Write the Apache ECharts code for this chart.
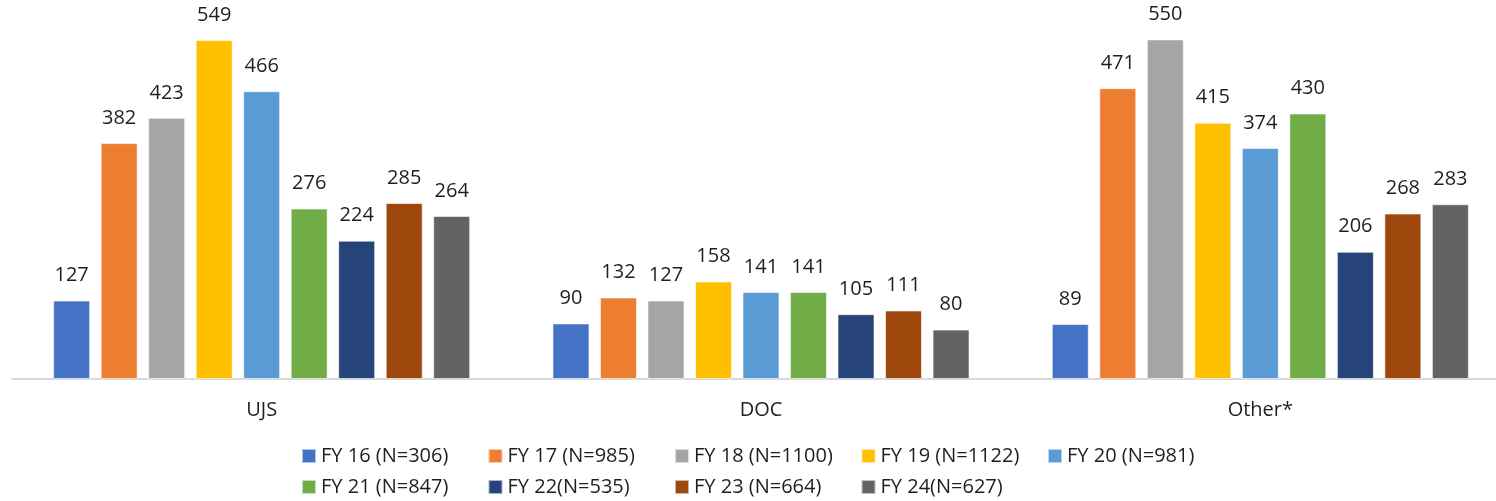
<!DOCTYPE html>
<html>
<head>
<meta charset="utf-8">
<script src="https://cdn.jsdelivr.net/npm/echarts@6/dist/echarts.min.js"></script>
<style>
  html, body { margin: 0; padding: 0; background: #fff; }
  #chart { width: 1496px; height: 501px; }
</style>
</head>
<body>
<div id="chart"></div>
<script>
// Categories along the x axis
const categories = ['UJS', 'DOC', 'Other*'];

// Fiscal-year series names (legend text)
const seriesNames = [
  'FY 16 (N=306)', 'FY 17 (N=985)', 'FY 18 (N=1100)', 'FY 19 (N=1122)', 'FY 20 (N=981)',
  'FY 21 (N=847)', 'FY 22(N=535)', 'FY 23 (N=664)', 'FY 24(N=627)'
];

// Counts per category for each fiscal year
const fy16 = [127, 90, 89];
const fy17 = [382, 132, 471];
const fy18 = [423, 127, 550];
const fy19 = [549, 158, 415];
const fy20 = [466, 141, 374];
const fy21 = [276, 141, 430];
const fy22 = [224, 105, 206];
const fy23 = [285, 111, 268];
const fy24 = [264, 80, 283];

const seriesValues = [fy16, fy17, fy18, fy19, fy20, fy21, fy22, fy23, fy24];

const colors = ['#4472C4', '#ED7D31', '#A5A5A5', '#FFC000', '#5B9BD5',
                '#70AD47', '#264478', '#9E480E', '#636363'];

const FONT = '"Open Sans", "Noto Sans", sans-serif';
const TEXT = '#1f1f1f';

const chart = echarts.init(document.getElementById('chart'), null, { renderer: 'canvas' });

const legendText = {
  fontFamily: FONT, fontSize: 20, color: TEXT, width: 161, overflow: 'none', lineHeight: 20
};

chart.setOption({
  animation: false,
  color: colors,
  grid: {
    left: 12, top: 8.5, width: 1498, height: 370.5,
    outerBoundsMode: 'none', containLabel: false
  },
  legend: [
    {
      data: seriesNames.slice(0, 5),
      left: 296, top: 441, orient: 'horizontal', padding: 5,
      itemWidth: 14, itemHeight: 14, itemGap: 5.5, icon: 'rect',
      textStyle: legendText
    },
    {
      data: seriesNames.slice(5),
      left: 296, top: 472, orient: 'horizontal', padding: 5,
      itemWidth: 14, itemHeight: 14, itemGap: 5.5, icon: 'rect',
      textStyle: legendText
    }
  ],
  xAxis: {
    type: 'category',
    data: categories,
    axisLine: { show: true, lineStyle: { color: '#d9d9d9', width: 2 } },
    axisTick: { show: false },
    axisLabel: { fontFamily: FONT, fontSize: 20, color: TEXT, margin: 21, lineHeight: 20 },
    splitLine: { show: false }
  },
  yAxis: {
    type: 'value', min: 0, max: 600, show: false,
    splitLine: { show: false }
  },
  series: seriesNames.map((name, i) => ({
    name,
    type: 'bar',
    data: seriesValues[i],
    barWidth: 37,
    barGap: '28.4%',
    itemStyle: { color: colors[i], borderColor: 'rgba(255,255,255,0.6)', borderWidth: 1 },
    label: {
      show: true, position: 'top', distance: 15,
      fontFamily: FONT, fontSize: 20, color: TEXT, lineHeight: 20
    }
  }))
});
</script>
</body>
</html>
